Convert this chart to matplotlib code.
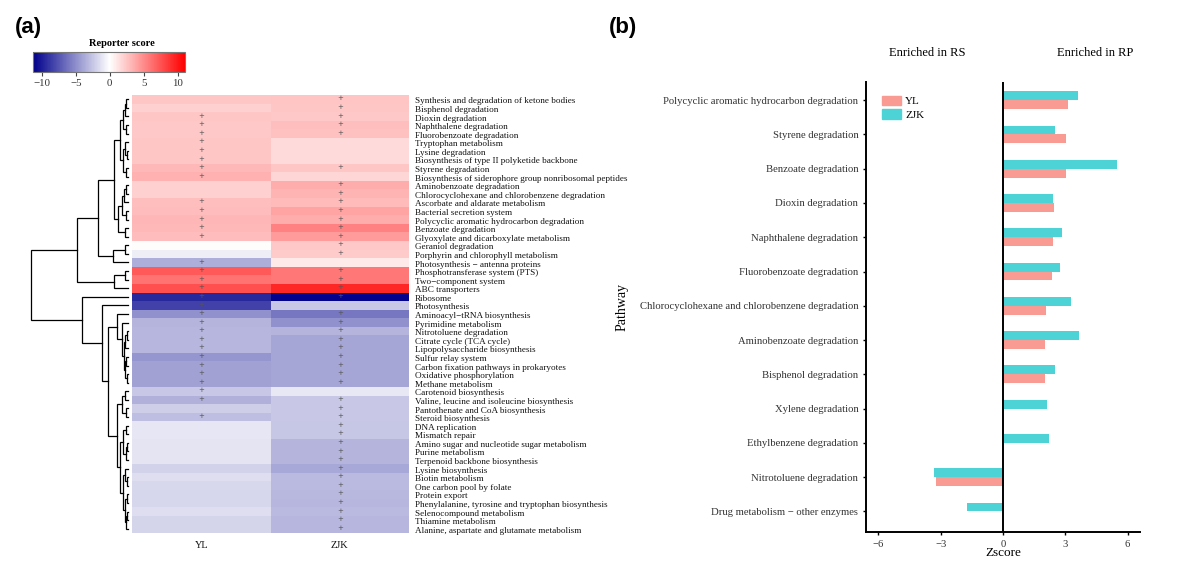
import numpy as np
import matplotlib
matplotlib.use("Agg")
import matplotlib.pyplot as plt
from matplotlib.colors import LinearSegmentedColormap, Normalize
from matplotlib.patches import Patch

plt.rcParams['font.family'] = ['Liberation Serif', 'DejaVu Serif']

# ---------------- data: panel (a) ----------------
pathways = [
    "Synthesis and degradation of ketone bodies", "Bisphenol degradation", "Dioxin degradation",
    "Naphthalene degradation", "Fluorobenzoate degradation", "Tryptophan metabolism",
    "Lysine degradation", "Biosynthesis of type II polyketide backbone", "Styrene degradation",
    "Biosynthesis of siderophore group nonribosomal peptides", "Aminobenzoate degradation",
    "Chlorocyclohexane and chlorobenzene degradation", "Ascorbate and aldarate metabolism",
    "Bacterial secretion system", "Polycyclic aromatic hydrocarbon degradation", "Benzoate degradation",
    "Glyoxylate and dicarboxylate metabolism", "Geraniol degradation", "Porphyrin and chlorophyll metabolism",
    "Photosynthesis \u2212 antenna proteins", "Phosphotransferase system (PTS)", "Two\u2212component system",
    "ABC transporters", "Ribosome", "Photosynthesis", "Aminoacyl\u2212tRNA biosynthesis",
    "Pyrimidine metabolism", "Nitrotoluene degradation", "Citrate cycle (TCA cycle)",
    "Lipopolysaccharide biosynthesis", "Sulfur relay system", "Carbon fixation pathways in prokaryotes",
    "Oxidative phosphorylation", "Methane metabolism", "Carotenoid biosynthesis",
    "Valine, leucine and isoleucine biosynthesis", "Pantothenate and CoA biosynthesis",
    "Steroid biosynthesis", "DNA replication", "Mismatch repair",
    "Amino sugar and nucleotide sugar metabolism", "Purine metabolism", "Terpenoid backbone biosynthesis",
    "Lysine biosynthesis", "Biotin metabolism", "One carbon pool by folate", "Protein export",
    "Phenylalanine, tyrosine and tryptophan biosynthesis", "Selenocompound metabolism",
    "Thiamine metabolism", "Alanine, aspartate and glutamate metabolism",
]
samples = ["YL", "ZJK"]
score_YL = [2.5, 2.0, 2.47, 2.4, 2.35, 2.5, 2.5, 2.5, 3.05, 3.4,
            2.0, 2.05, 2.8, 2.9, 3.15, 3.05, 2.9, 0.15, -0.8, -3.6,
            7.2, 6.1, 7.6, -9.5, -8.4, -4.9, -3.3, -3.22, -3.2, -3.2,
            -4.7, -4.2, -4.2, -4.2, -2.4, -3.5, -2.2, -2.9, -1.1, -1.1,
            -1.2, -1.2, -1.2, -2.0, -1.5, -1.7, -1.8, -1.8, -1.5, -1.9, -1.9]
score_ZJK = [2.6, 2.5, 2.42, 2.85, 2.75, 1.6, 1.6, 1.6, 2.52, 1.8,
             3.65, 3.27, 3.0, 4.0, 3.6, 5.48, 4.3, 2.4, 2.3, 0.9,
             5.9, 5.9, 9.4, -11.2, -2.4, -6.0, -4.9, -3.32, -4.0, -4.0,
             -4.0, -4.0, -4.0, -4.0, -1.0, -2.4, -2.4, -2.4, -2.5, -2.5,
             -3.3, -3.3, -3.3, -3.8, -3.0, -3.0, -3.1, -3.2, -3.0, -3.2, -3.2]
sig_YL = [0, 0, 1, 1, 1, 1, 1, 1, 1, 1,
          0, 0, 1, 1, 1, 1, 1, 0, 0, 1,
          1, 1, 1, 1, 1, 1, 1, 1, 1, 1,
          1, 1, 1, 1, 1, 1, 0, 1, 0, 0,
          0, 0, 0, 0, 0, 0, 0, 0, 0, 0, 0]
sig_ZJK = [1, 1, 1, 1, 1, 0, 0, 0, 1, 0,
           1, 1, 1, 1, 1, 1, 1, 1, 1, 0,
           1, 1, 1, 1, 0, 1, 1, 1, 1, 1,
           1, 1, 1, 1, 0, 1, 1, 1, 1, 1,
           1, 1, 1, 1, 1, 1, 1, 1, 1, 1, 1]

# row dendrogram: [left, right, merge height]; leaves are row indices
tree_top = [[[[[[0, 1, 2], 2, 3.5], [3, 4, 2], 5.5],
              [[5, [6, 7, 1.5], 3], [8, 9, 2.5], 5.5], 8],
             [[[[10, 11, 2], 12, 4], [13, 14, 2.5], 6.5], [15, 16, 3], 10], 14],
            [[17, 18, 3], 19, 15], 30]
tree_pts = [[20, 21, 3], 22, 14]
tree_c = [25, [26, [[[27, 28, 1.5], 29, 3], [[30, 31, 2], [32, 33, 1.5], 3.5], 4.5], 6], 11]
tree_d = [[[34, 35, 3], [36, 37, 2], 6],
          [[[38, 39, 2], [[40, 41, 1], 42, 2], 5],
           [[43, [44, 45, 1.5], 3], [[46, 47, 1.5], [[48, 49, 1], 50, 2], 3], 5], 8], 11]
tree = [[tree_top, tree_pts, 51], [23, [24, [tree_c, tree_d, 20], 26], 46], 97]

# ---------------- data: panel (b) ----------------
b_pathways = ["Polycyclic aromatic hydrocarbon degradation", "Styrene degradation", "Benzoate degradation",
              "Dioxin degradation", "Naphthalene degradation", "Fluorobenzoate degradation",
              "Chlorocyclohexane and chlorobenzene degradation", "Aminobenzoate degradation",
              "Bisphenol degradation", "Xylene degradation", "Ethylbenzene degradation",
              "Nitrotoluene degradation", "Drug metabolism \u2212 other enzymes"]
z_YL = [3.15, 3.05, 3.05, 2.47, 2.4, 2.35, 2.05, 2.02, 2.02, np.nan, np.nan, -3.22, np.nan]
z_ZJK = [3.6, 2.52, 5.48, 2.42, 2.85, 2.75, 3.27, 3.65, 2.5, 2.12, 2.2, -3.32, -1.73]
z_ticks = [-6, -3, 0, 3, 6]

# ---------------- figure ----------------
W, H = 1201, 572
fig = plt.figure(figsize=(W / 100, H / 100), dpi=100)

def fax(l, t, r, b):
    return fig.add_axes([l / W, 1 - b / H, (r - l) / W, (b - t) / H])

vmin, vmax = -11.3, 11.1
cmap = LinearSegmentedColormap.from_list(
    "rs", [(0, "#00008B"), (-vmin / (vmax - vmin), "#FFFFFF"), (1, "#FF0000")])
norm = Normalize(vmin, vmax)

# heatmap
axh = fax(132, 95, 409, 533)
data = np.column_stack([score_YL, score_ZJK])
n = len(pathways)
axh.pcolormesh(np.arange(3), np.arange(n + 1), data, cmap=cmap, norm=norm)
axh.set_xlim(0, 2)
axh.set_ylim(n, 0)
for j, sig in enumerate([sig_YL, sig_ZJK]):
    for i, s in enumerate(sig):
        if s:
            axh.text(j + 0.5, i + 0.4, "+", ha="center", va="center", fontsize=5,
                     color="#555555", family="DejaVu Sans")
axh.set_yticks(np.arange(n) + 0.62)
axh.set_yticklabels(pathways, fontsize=6.6, color="#111111")
axh.yaxis.tick_right()
axh.set_xticks([0.5, 1.5])
axh.set_xticklabels(samples, fontsize=7.5, color="#111111")
axh.tick_params(length=0, pad=4)
axh.tick_params(axis="x", pad=6)
for s in axh.spines.values():
    s.set_visible(False)

# dendrogram
axd = fax(30, 95, 130, 533)
axd.set_xlim(98, -2)
axd.set_ylim(n, 0)
axd.axis("off")

def draw(node):
    if isinstance(node, int):
        return node + 0.5, 0.0
    l, r, h = node
    y1, h1 = draw(l)
    y2, h2 = draw(r)
    axd.plot([h1, h, h, h2], [y1, y1, y2, y2], color="black", lw=0.9,
             solid_joinstyle="miter", clip_on=False)
    return (y1 + y2) / 2, h

draw(tree)

# colorbar
axc = fax(33, 52, 185, 72)
cb = fig.colorbar(plt.cm.ScalarMappable(norm=norm, cmap=cmap), cax=axc, orientation="horizontal")
cb.set_ticks([-10, -5, 0, 5, 10])
cb.ax.tick_params(labelsize=7.8, length=3, width=0.8, color="#444444", labelcolor="#333333", pad=2)
cb.outline.set_edgecolor("#777777")
cb.outline.set_linewidth(0.8)
fig.text(122 / W, 1 - 43 / H, "Reporter score", ha="center", va="center",
         fontsize=7.5, fontweight="bold")

# panel b
axb = fax(866, 82, 1140, 532)
y = np.arange(len(b_pathways))
bh = 0.26
c_yl = "#F99A93"
c_zjk = "#4DD2D6"
axb.barh(y + bh / 2, z_YL, height=bh, color=c_yl, label="YL")
axb.barh(y - bh / 2, z_ZJK, height=bh, color=c_zjk, label="ZJK")
axb.axvline(0, color="black", lw=1.4)
axb.set_xlim(-6.6, 6.6)
axb.set_ylim(len(b_pathways) - 0.4, -0.53)
axb.set_yticks(y)
axb.set_yticklabels(b_pathways, fontsize=7.7)
axb.set_xticks(z_ticks)
axb.set_xticklabels([f"{t}".replace("-", "\u2212") for t in z_ticks], fontsize=7.7)
axb.tick_params(length=2.5, width=1, pad=3, colors="black", labelcolor="#333333")
for side in ["top", "right"]:
    axb.spines[side].set_visible(False)
for side in ["left", "bottom"]:
    axb.spines[side].set_linewidth(1.4)
axb.set_xlabel("Zscore", fontsize=9.5, labelpad=-1)
axb.set_ylabel("Pathway", fontsize=10, labelpad=8)
axb.legend(handles=[Patch(color=c_yl, label="YL"), Patch(color=c_zjk, label="ZJK")],
           frameon=False, loc="upper left", bbox_to_anchor=(0.058, 0.97), borderaxespad=0,
           borderpad=0, fontsize=8, handlelength=1.7, handleheight=0.9, handletextpad=0.4,
           labelspacing=0.3)
fig.text(927 / W, 1 - 53 / H, "Enriched in RS", ha="center", va="center", fontsize=9)
fig.text(1095 / W, 1 - 53 / H, "Enriched in RP", ha="center", va="center", fontsize=9)

fig.text(15 / W, 1 - 27 / H, "(a)", ha="left", va="center", fontsize=16, fontweight="bold",
         family="Liberation Sans")
fig.text(609 / W, 1 - 27 / H, "(b)", ha="left", va="center", fontsize=16, fontweight="bold",
         family="Liberation Sans")

fig.savefig("out.png", dpi=100)
